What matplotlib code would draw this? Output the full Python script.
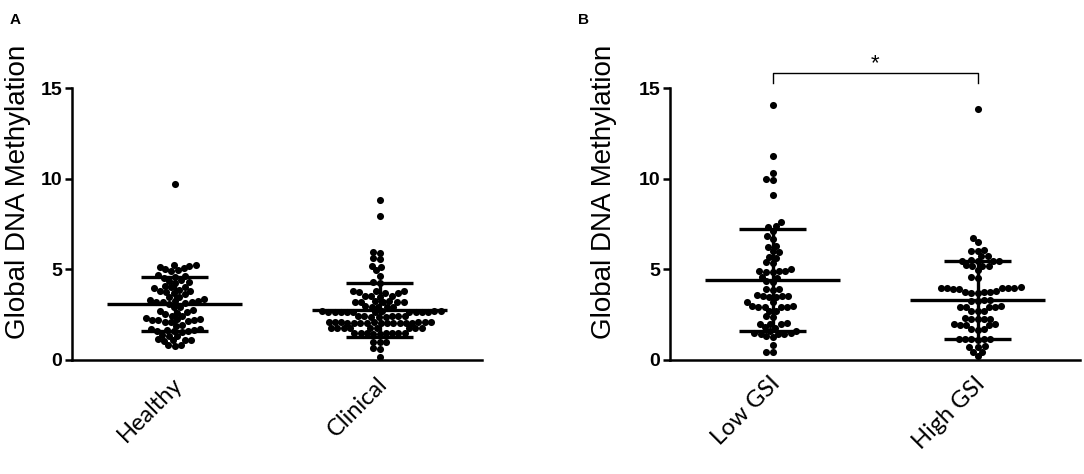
import matplotlib
matplotlib.use("Agg")
import matplotlib.pyplot as plt
import matplotlib.transforms as mtransforms
import numpy as np

# Panel A values
groups_a = ["Healthy", "Clinical"]
healthy = [9.7,
           5.25, 5.2, 5.22, 5.15, 5.0, 4.95, 5.05, 4.9,
           4.65, 4.7, 4.6, 4.55, 4.35, 4.3, 4.25, 4.4,
           4.05, 4.0, 4.1, 3.95, 3.8, 3.75, 3.7, 3.85, 3.65, 3.78,
           3.45, 3.5, 3.25, 3.2, 3.3, 3.15, 3.22, 3.28, 3.18, 3.1, 3.35,
           2.9, 2.95, 2.7, 2.65, 2.6, 2.75, 2.55, 2.45, 2.4,
           2.25, 2.2, 2.15, 2.3, 2.18, 2.22, 2.28, 2.1, 2.12,
           1.95, 1.9, 1.7, 1.65, 1.6, 1.72, 1.68, 1.55, 1.62, 1.58,
           1.4, 1.35, 1.3, 1.15, 1.1, 1.05, 1.12, 1.08,
           0.85, 0.8, 0.75]
clinical = [8.8, 7.95, 5.95, 5.9, 5.6, 5.55, 5.2, 5.15, 4.95, 4.65, 4.3, 4.25,
            3.8, 3.75, 3.78, 3.72, 3.82, 3.7,
            3.55, 3.52, 3.5, 3.54,
            3.25, 3.2, 3.22, 3.18, 3.24, 3.2, 3.21,
            2.95, 2.93, 2.96, 2.92, 2.94,
            2.68, 2.66, 2.67, 2.65, 2.69, 2.66, 2.68, 2.64, 2.67, 2.66, 2.68, 2.65, 2.67, 2.66,
            2.4, 2.38, 2.42, 2.39, 2.41, 2.4, 2.38, 2.41,
            2.07, 2.06, 2.05, 2.08, 2.06, 2.07, 2.05, 2.08, 2.06, 2.04, 2.07, 2.06,
            2.08, 2.05, 2.07, 2.06, 2.05,
            1.76, 1.75, 1.77, 1.74, 1.76, 1.75, 1.77, 1.74, 1.75,
            1.48, 1.47, 1.49, 1.46, 1.48, 1.47, 1.49, 1.46, 1.47,
            1.02, 1.0, 1.01, 0.66, 0.62, 0.17]
means_a = [3.11, 2.74]
sds_a = [1.49, 1.49]

# Panel B values
groups_b = ["Low GSI", "High GSI"]
low_gsi = [14.05, 11.25, 10.3, 10.0, 9.9, 9.1,
           7.6, 7.4, 7.35, 7.1, 6.85, 6.7, 6.3, 6.25, 6.0, 5.95, 5.7, 5.65, 5.4, 5.35,
           5.0, 4.9, 4.88, 4.92, 4.86, 4.9, 4.6, 4.55, 4.35, 4.3,
           3.9, 3.92, 3.88, 3.55, 3.52, 3.5, 3.56, 3.48, 3.54, 3.2, 3.18,
           2.95, 2.92, 2.96, 2.9, 2.94, 2.97, 2.7, 2.68, 2.4, 2.38,
           2.0, 1.98, 2.02, 1.96, 1.8, 1.78, 1.6, 1.62,
           1.48, 1.45, 1.5, 1.46, 1.44, 1.3, 1.28, 0.83, 0.46, 0.45]
high_gsi = [13.85, 6.75, 6.5, 6.05, 6.0, 6.02, 5.75, 5.72,
            5.48, 5.45, 5.5, 5.44, 5.46, 5.2, 5.18, 5.22, 5.16, 4.95, 4.55, 4.58,
            3.98, 3.96, 3.97, 3.95, 4.0, 3.94, 3.99, 3.93,
            3.75, 3.72, 3.74, 3.76, 3.7, 3.78, 3.3, 3.28, 3.25, 3.32,
            2.94, 2.92, 2.96, 2.9, 2.95, 2.7, 2.68, 2.72,
            2.27, 2.25, 2.28, 2.24, 2.3, 1.95, 1.93, 1.97, 1.92, 1.96,
            1.7, 1.68, 1.72, 1.16, 1.15, 1.18, 1.14, 1.17, 1.13,
            0.73, 0.72, 0.75, 0.46, 0.45, 0.2]
means_b = [4.42, 3.31]
sds_b = [2.8, 2.15]

W, H = 1084, 474
AX_W, AX_H = 410, 317.3
fig = plt.figure(figsize=(W / 100, H / 100), dpi=100)


def beeswarm(vals, center, ax_ylim=17.5, d=6.3):
    # simple swarm in pixel space: each point goes as close to the centre
    # as it can without hitting the points already placed
    vals = np.asarray(vals, dtype=float)
    py = vals * AX_H / ax_ylim
    px_per_x = AX_W / 2.0
    xs = np.zeros(len(vals))
    placed = []
    for i in np.argsort(py):
        yi = py[i]
        neigh = [(x, y) for x, y in placed if abs(y - yi) < d]
        cands = [0.0]
        for x, y in neigh:
            dx = np.sqrt(d * d - (y - yi) ** 2)
            cands += [x + dx, x - dx]
        cands.sort(key=lambda c: (abs(c), c))
        for c in cands:
            if all((c - x) ** 2 + (yi - y) ** 2 >= d * d - 1e-6 for x, y in neigh):
                xs[i] = c
                break
        placed.append((xs[i], yi))
    return center + xs / px_per_x


def panel(left, groups, series, means, sds, letter, letter_x, ylab_x):
    ax = fig.add_axes([left / W, 114 / H, AX_W / W, AX_H / H])
    for i, vals in enumerate(series):
        ax.scatter(beeswarm(vals, i), vals, s=26, color="black", lw=0,
                   clip_on=False, zorder=3)

    # mean line + SD whiskers
    for i, (m, s) in enumerate(zip(means, sds)):
        ax.hlines(m, i - 0.33, i + 0.33, color="black", lw=2.4, zorder=5)
        ax.vlines(i, m - s, m + s, color="black", lw=2.4, zorder=5)
        ax.hlines([m - s, m + s], i - 0.165, i + 0.165, color="black", lw=2.4, zorder=5)

    ax.set_xlim(-0.5, 1.5)
    ax.set_ylim(0, 17.5)
    ax.set_yticks([0, 5, 10, 15])
    ax.spines["left"].set_bounds(0, 15)
    ax.spines["top"].set_visible(False)
    ax.spines["right"].set_visible(False)
    for sp in ("left", "bottom"):
        ax.spines[sp].set_linewidth(1.8)
    ax.tick_params(axis="y", length=5, width=1.8, pad=2)
    ax.tick_params(axis="x", length=0, pad=8)
    for t in ax.get_yticklabels():
        t.set_fontfamily("Liberation Sans")
        t.set_fontweight("bold")
        t.set_fontsize(14)
    ax.set_xticks(range(len(groups)))
    ax.set_xticklabels(groups, rotation=45, ha="right", rotation_mode="anchor",
                       fontsize=17, fontfamily="Lato")
    off = mtransforms.ScaledTranslation(-3 / 100, -2 / 100, fig.dpi_scale_trans)
    for t in ax.get_xticklabels():
        t.set_transform(t.get_transform() + off)
    ax.set_ylabel("Global DNA Methylation", fontsize=20, fontfamily="Liberation Sans")
    ax.yaxis.set_label_coords(ylab_x, 0.53)
    fig.text(letter_x / W, 1 - 20 / H, letter, fontsize=11, fontweight="bold",
             fontfamily="Liberation Sans", va="center")
    return ax


ax_a = panel(72, groups_a, [healthy, clinical], means_a, sds_a, "A", 10, -0.10)
ax_b = panel(670, groups_b, [low_gsi, high_gsi], means_b, sds_b, "B", 578, -0.13)

# significance bracket
ax_b.plot([0, 0, 1, 1], [15.3, 15.85, 15.85, 15.3], color="black", lw=1.0, clip_on=False)
ax_b.text(0.5, 16.35, "*", ha="center", va="center", fontsize=16, fontfamily="Liberation Sans")

fig.savefig("out.png", dpi=100)
